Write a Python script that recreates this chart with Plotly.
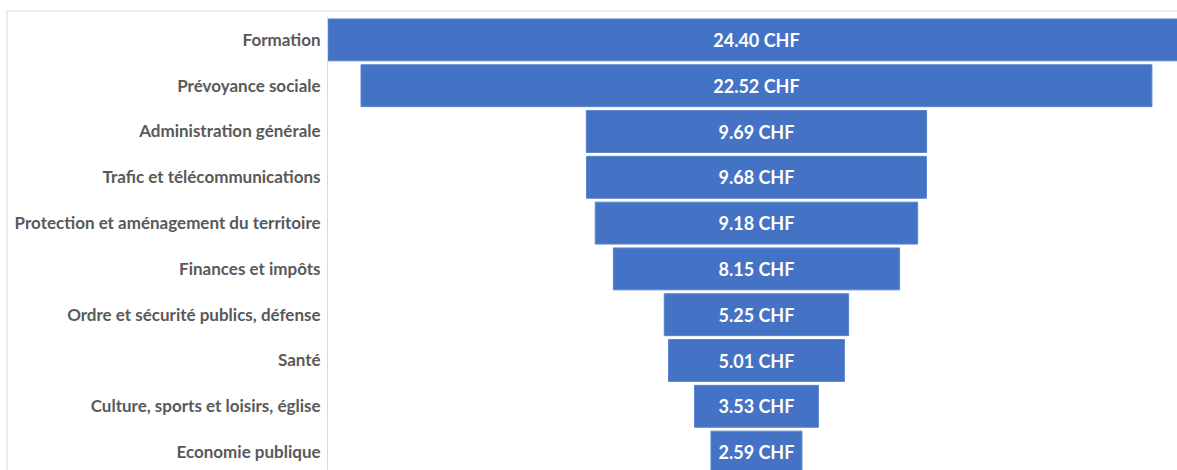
import plotly.graph_objects as go

categories = [
    "Formation",
    "Prévoyance sociale",
    "Administration générale",
    "Trafic et télécommunications",
    "Protection et aménagement du territoire",
    "Finances et impôts",
    "Ordre et sécurité publics, défense",
    "Santé",
    "Culture, sports et loisirs, église",
    "Economie publique",
]
values = [24.40, 22.52, 9.69, 9.68, 9.18, 8.15, 5.25, 5.01, 3.53, 2.59]

W, H = 1177, 470
L, T = 328, 17
plot_w = W - L
plot_h = H - T
px_per_unit = 35.12
row_px = 45.8

x_left = -values[0] / 2
x_right = x_left + plot_w / px_per_unit
y_bottom = -0.5 + plot_h / row_px

fig = go.Figure(
    go.Funnel(
        y=categories,
        x=values,
        texttemplate="%{x:.2f} CHF",
        textposition="inside",
        insidetextanchor="middle",
        textfont=dict(family="Lato", size=18, color="white", weight="bold"),
        marker=dict(color="#4472C4", line=dict(width=1, color="#5B84CC")),
        connector=dict(visible=False),
        hoverinfo="y+x",
    )
)

fig.update_layout(
    width=W,
    height=H,
    margin=dict(l=L, r=0, t=T, b=0),
    paper_bgcolor="white",
    plot_bgcolor="white",
    funnelgap=0.085,
    showlegend=False,
    xaxis=dict(visible=False, range=[x_left, x_right], fixedrange=True),
    yaxis=dict(
        range=[y_bottom, -0.5],
        showline=True,
        linecolor="#D9D9D9",
        linewidth=1,
        showgrid=False,
        ticks="",
        ticklabelstandoff=3,
        tickfont=dict(family="Lato", size=17, color="#595959", weight="bold"),
    ),
    shapes=[
        dict(
            type="rect",
            xref="paper",
            yref="paper",
            x0=(7 - L) / plot_w,
            x1=1.05,
            y0=-0.1,
            y1=1 + (T - 11) / plot_h,
            line=dict(color="#D9D9D9", width=1),
            fillcolor="rgba(0,0,0,0)",
            layer="below",
        )
    ],
)

fig.write_html(
    "out.html",
    config={"displayModeBar": False},
    post_script="document.body.style.margin='0';document.body.style.overflow='hidden';",
)
